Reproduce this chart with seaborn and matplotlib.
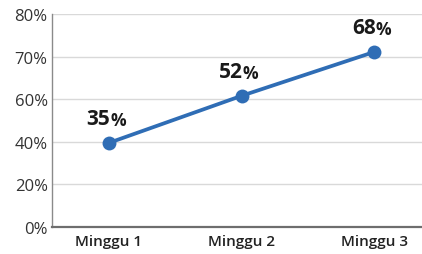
import numpy as np
import pandas as pd
import matplotlib
matplotlib.use("Agg")
import matplotlib.pyplot as plt
import seaborn as sns

weeks = ["Minggu 1", "Minggu 2", "Minggu 3"]
plotted = [39.5, 60.8, 71.1]          # point heights as read on the drawn axis
shown = ["35", "52", "68"]            # labels printed next to the points
y_ticks = [0, 20, 40, 60, 70, 80]     # tick values, drawn evenly spaced

sns.set_theme(style="white")
plt.rcParams["font.family"] = ["Open Sans", "DejaVu Sans"]

df = pd.DataFrame({"week": weeks, "value": plotted})
df["x"] = np.arange(len(weeks))

fig = plt.figure(figsize=(4.22, 2.55), dpi=100)
ax = fig.add_axes([0.123, 0.106, 0.877, 0.835])

# evenly spaced gridlines for irregular tick values
idx = np.arange(len(y_ticks), dtype=float)
fwd = lambda v: np.interp(v, y_ticks, idx)
inv = lambda v: np.interp(v, idx, y_ticks)
ax.set_yscale("function", functions=(fwd, inv))

sns.lineplot(data=df, x="x", y="value", ax=ax, color="#2f6db5",
             linewidth=2.7, marker="o", markersize=10,
             markeredgewidth=0, zorder=3)

ax.set_ylim(0, 80)
ax.set_xlim(-0.43, 2.36)
ax.set_yticks(y_ticks)
ax.set_yticklabels([f"{t}%" for t in y_ticks])
ax.set_xticks(df["x"])
ax.set_xticklabels(weeks)
ax.set_xlabel("")
ax.set_ylabel("")

ax.grid(axis="y", color="#d9d9d9", linewidth=1)
ax.set_axisbelow(True)
for s in ["top", "right"]:
    ax.spines[s].set_visible(False)
ax.spines["left"].set_color("#8a8a8a")
ax.spines["left"].set_linewidth(1)
ax.spines["bottom"].set_color("#6e6e6e")
ax.spines["bottom"].set_linewidth(1.6)

ax.tick_params(axis="y", labelsize=12, labelcolor="#333333", length=0, pad=3)
ax.tick_params(axis="x", labelsize=11, labelcolor="#222222", length=0, pad=5)
for lab in ax.get_xticklabels():
    lab.set_fontweight("semibold")

for x, y, s in zip(df["x"], df["value"], shown):
    ax.annotate(s, (x, y), xytext=(1, 10), textcoords="offset points",
                ha="right", va="bottom", fontsize=15, fontweight="bold",
                color="#1a1a1a")
    ax.annotate("%", (x, y), xytext=(1, 10), textcoords="offset points",
                ha="left", va="bottom", fontsize=12.5, fontweight="bold",
                color="#1a1a1a")

fig.savefig("out.png", dpi=100)
